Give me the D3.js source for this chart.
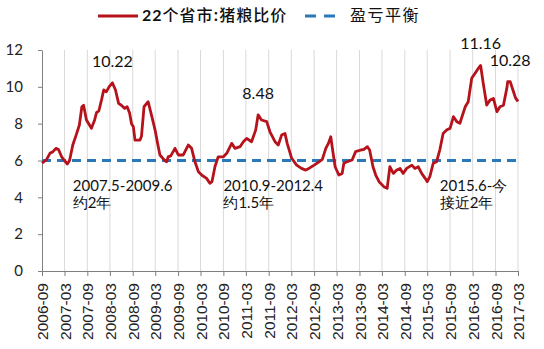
<!DOCTYPE html>
<html>
<head>
<meta charset="utf-8">
<script src="https://cdn.jsdelivr.net/npm/d3@7"></script>
<style>
  html, body { margin: 0; padding: 0; background: #fff; }
  svg { display: block; }
</style>
</head>
<body>
<svg id="chart" width="544" height="349"></svg>
<script>
// 22个省市猪粮比价 (weekly-ish readings)
const dates = [
  "2006-09-01","2006-10-06","2006-11-04","2006-11-28","2006-12-22","2007-01-12","2007-02-06","2007-03-01","2007-03-24","2007-04-11",
  "2007-05-07","2007-06-03","2007-06-29","2007-07-19","2007-08-02","2007-08-25","2007-10-04","2007-10-30","2007-11-14","2007-12-03",
  "2007-12-24","2008-01-11","2008-02-01","2008-02-23","2008-03-21","2008-04-15","2008-05-10","2008-06-01","2008-06-28","2008-07-18",
  "2008-08-07","2008-08-22","2008-09-06","2008-09-19","2008-10-29","2008-11-10","2008-12-01","2009-01-03","2009-02-02","2009-02-28",
  "2009-03-20","2009-04-08","2009-05-12","2009-06-01","2009-06-13","2009-07-04","2009-08-07","2009-09-03","2009-10-13","2009-11-22",
  "2009-12-19","2010-01-15","2010-02-12","2010-03-12","2010-04-19","2010-05-15","2010-06-01","2010-06-25","2010-07-21","2010-09-01",
  "2010-09-28","2010-11-07","2010-12-04","2011-01-13","2011-02-09","2011-03-07","2011-04-16","2011-05-19","2011-06-08","2011-07-05",
  "2011-08-16","2011-09-11","2011-10-22","2011-11-17","2011-12-14","2012-01-10","2012-01-28","2012-03-04","2012-04-13","2012-05-22",
  "2012-06-25","2012-07-21","2012-09-01","2012-10-10","2012-11-06","2012-12-04","2012-12-25","2013-01-13","2013-01-26","2013-02-17",
  "2013-03-19","2013-04-15","2013-04-28","2013-05-25","2013-07-04","2013-08-01","2013-09-12","2013-10-07","2013-11-04","2013-11-22",
  "2013-12-19","2014-01-10","2014-02-06","2014-03-16","2014-04-12","2014-05-04","2014-06-01","2014-06-28","2014-07-25","2014-08-19",
  "2014-09-16","2014-10-28","2014-11-22","2014-12-19","2015-01-15","2015-02-12","2015-03-01","2015-03-22","2015-04-18","2015-05-15",
  "2015-06-10","2015-07-07","2015-08-04","2015-09-01","2015-09-28","2015-10-25","2015-11-19","2016-01-01","2016-01-25","2016-02-22",
  "2016-03-19","2016-04-15","2016-05-04","2016-05-25","2016-06-22","2016-07-19","2016-08-15","2016-09-12","2016-10-07","2016-11-04",
  "2016-12-01","2016-12-08","2016-12-28","2017-01-23","2017-02-09","2017-03-01"
];
const ratio = [
  5.86, 6.03, 6.39, 6.48, 6.66, 6.60, 6.20, 6.00, 5.81, 6.00,
  6.84, 7.38, 7.93, 8.92, 9.00, 8.20, 7.75, 8.20, 8.60, 8.70,
  9.28, 9.83, 9.73, 10.00, 10.22, 9.83, 9.10, 9.00, 8.83, 8.92,
  8.56, 8.00, 7.83, 7.11, 7.11, 7.30, 8.92, 9.19, 8.38, 7.65,
  6.93, 6.30, 6.03, 5.93, 6.20, 6.25, 6.66, 6.30, 6.30, 6.84,
  6.66, 5.93, 5.39, 5.20, 5.03, 4.76, 4.85, 5.66, 6.20, 6.20,
  6.39, 6.93, 6.66, 6.75, 7.02, 7.20, 7.02, 7.65, 8.48, 8.20,
  8.11, 7.56, 7.02, 6.84, 7.38, 7.47, 6.93, 6.12, 5.75, 5.57,
  5.48, 5.57, 5.75, 5.93, 6.06, 6.66, 6.93, 7.29, 6.66, 5.66,
  5.21, 5.30, 5.85, 5.93, 6.03, 6.48, 6.57, 6.60, 6.75, 6.57,
  5.66, 5.21, 4.85, 4.58, 4.49, 5.66, 5.30, 5.48, 5.57, 5.30,
  5.57, 5.75, 5.57, 5.66, 5.30, 5.03, 4.85, 5.12, 5.85, 5.93,
  6.57, 7.47, 7.65, 7.75, 8.38, 8.11, 8.02, 8.92, 9.19, 10.46,
  10.73, 11.00, 11.16, 10.19, 9.01, 9.28, 9.37, 8.65, 8.92, 9.00,
  9.92, 10.28, 10.28, 9.75, 9.40, 9.20
];
const breakEven = 6;

const tickLabels = [
  "2006-09","2007-03","2007-09","2008-03","2008-09","2009-03","2009-09","2010-03","2010-09","2011-03","2011-09",
  "2012-03","2012-09","2013-03","2013-09","2014-03","2014-09","2015-03","2015-09","2016-03","2016-09","2017-03"
];
const yTicks = [0, 2, 4, 6, 8, 10, 12];

// value labels at peaks
const peakDates = ["2008-03-21", "2011-06-08", "2016-05-04", "2016-12-28"];
const peakValues = [10.22, 8.48, 11.16, 10.28];

// periods above break-even
const periodLines1 = ["2007.5-2009.6", "2010.9-2012.4", "2015.6-今"];
const periodLines2 = ["约2年", "约1.5年", "接近2年"];
const periodStart = ["2007-05-07", "2010-09-01", "2015-06-10"];

const seriesName = "22个省市:猪粮比价";
const lineName = "盈亏平衡";

const parseDay = d3.timeParse("%Y-%m-%d");
const parseMonth = d3.timeParse("%Y-%m");
const data = dates.map((d, i) => ({ date: parseDay(d), value: ratio[i] }));
const tickDates = tickLabels.map(parseMonth);

const svg = d3.select("#chart");
const plotL = 42, plotR = 518, plotT = 50, plotB = 271;

const x = d3.scaleTime()
  .domain([tickDates[0], tickDates[tickDates.length - 1]])
  .range([plotL, plotR]);
const y = d3.scaleLinear().domain([0, 12]).range([plotB, plotT]);

const red = "#B5121B";
const blue = "#2A77BA";
const numFont = "Lato, 'Open Sans', sans-serif";
const cjkFont = "'Noto Sans CJK SC', sans-serif";

// vertical gridlines
svg.append("g")
  .selectAll("line")
  .data(tickDates.slice(1))
  .join("line")
  .attr("x1", d => x(d)).attr("x2", d => x(d))
  .attr("y1", plotT).attr("y2", plotB)
  .attr("stroke", "#d9d9d9").attr("stroke-width", 1);

// y axis
const yAxis = svg.append("g")
  .attr("transform", `translate(${plotL},0)`)
  .call(d3.axisLeft(y).tickValues(yTicks).tickSize(4).tickPadding(15).tickSizeOuter(0));
yAxis.select(".domain").attr("stroke", "#7f7f7f");
yAxis.selectAll(".tick line").attr("stroke", "#7f7f7f");
yAxis.selectAll("text")
  .attr("font-family", numFont).attr("font-size", 15).attr("fill", "#222");

// x axis
const xAxis = svg.append("g")
  .attr("transform", `translate(0,${plotB})`)
  .call(d3.axisBottom(x).tickValues(tickDates).tickFormat(d3.timeFormat("%Y-%m")).tickSize(5).tickSizeOuter(0));
xAxis.select(".domain").attr("stroke", "#7f7f7f");
xAxis.selectAll(".tick line").attr("stroke", "#7f7f7f");
xAxis.selectAll("text")
  .attr("font-family", "'Liberation Sans', Arial, sans-serif")
  .attr("font-size", 15.5).attr("fill", "#222")
  .attr("text-anchor", "end")
  .attr("transform", "rotate(-90)")
  .attr("x", -12).attr("y", 0).attr("dy", "0.36em");

// break-even line
svg.append("line")
  .attr("x1", x(tickDates[0])).attr("x2", x(tickDates[tickDates.length - 1]))
  .attr("y1", y(breakEven)).attr("y2", y(breakEven))
  .attr("stroke", blue).attr("stroke-width", 3)
  .attr("stroke-dasharray", "9,6");

// price ratio series
svg.append("path")
  .datum(data)
  .attr("fill", "none")
  .attr("stroke", red).attr("stroke-width", 2.8)
  .attr("stroke-linejoin", "round")
  .attr("d", d3.line().x(d => x(d.date)).y(d => y(d.value)));

// peak labels
svg.append("g")
  .selectAll("text")
  .data(peakValues)
  .join("text")
  .attr("x", (d, i) => x(parseDay(peakDates[i])))
  .attr("y", d => y(d) - 16)
  .attr("text-anchor", "middle")
  .attr("font-family", numFont).attr("font-size", 16).attr("fill", "#111")
  .text(d => d.toFixed(2));

// period annotations
const periods = svg.append("g");
periodLines1.forEach((t, i) => {
  const px = x(parseDay(periodStart[i]));
  periods.append("text")
    .attr("x", px).attr("y", 191)
    .attr("font-family", numFont).attr("font-size", 15).attr("fill", "#111")
    .text(t);
  periods.append("text")
    .attr("x", px).attr("y", 208)
    .attr("font-family", numFont).attr("font-size", 15).attr("fill", "#111")
    .text(periodLines2[i]);
});

// legend
const legend = svg.append("g");
legend.append("line")
  .attr("x1", 98).attr("x2", 138).attr("y1", 16).attr("y2", 16)
  .attr("stroke", red).attr("stroke-width", 3);
const lt = legend.append("text")
  .attr("x", 142).attr("y", 21)
  .attr("font-family", cjkFont).attr("font-size", 16).attr("fill", "#111")
  .attr("letter-spacing", 1);
lt.append("tspan").attr("font-weight", "bold").attr("font-family", numFont).text(seriesName.slice(0, 2));
lt.append("tspan").attr("font-weight", 500).text(seriesName.slice(2));
legend.append("line")
  .attr("x1", 305).attr("x2", 335).attr("y1", 16).attr("y2", 16)
  .attr("stroke", blue).attr("stroke-width", 3)
  .attr("stroke-dasharray", "11,8");
legend.append("text")
  .attr("x", 350).attr("y", 21)
  .attr("font-family", cjkFont).attr("font-size", 16).attr("fill", "#111")
  .attr("letter-spacing", 1.5)
  .text(lineName);
</script>
</body>
</html>
